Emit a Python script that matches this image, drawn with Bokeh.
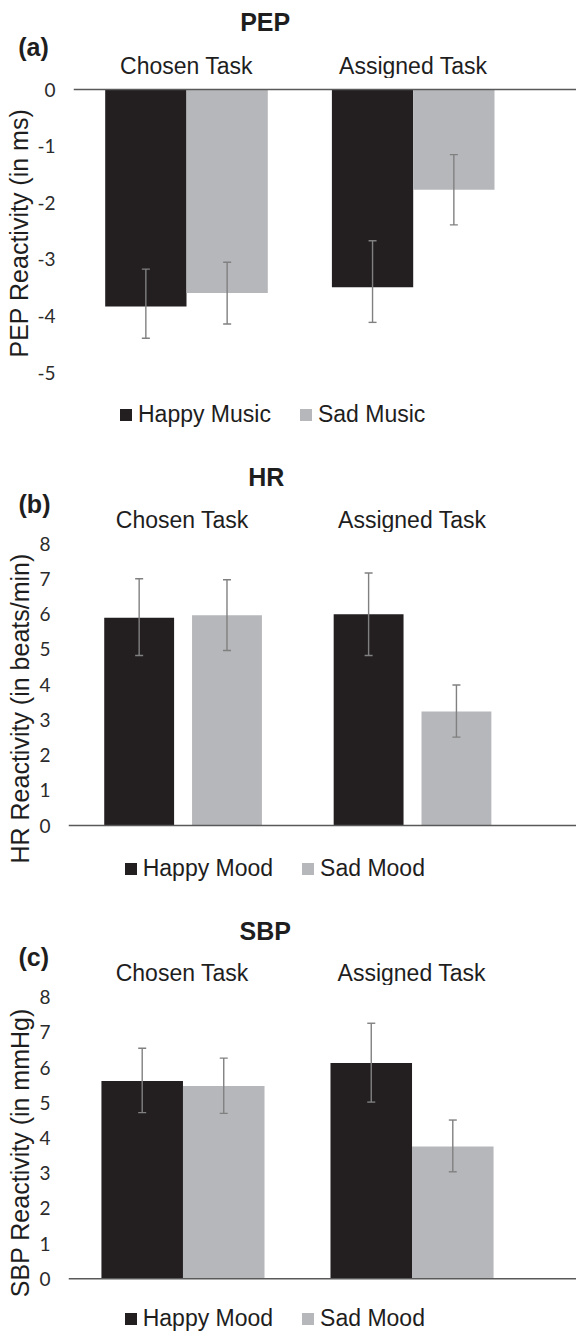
import math
import numpy as np
from bokeh.plotting import figure
from bokeh.layouts import column
from bokeh.models import (ColumnDataSource, Whisker, TeeHead, Span, Label, Legend,
                          LegendItem, FixedTicker, Range1d, Title)
from bokeh.embed import file_html
from bokeh.resources import INLINE

# ---------------- data ----------------
tasks = ["Chosen Task", "Assigned Task"]

pep_series = ["Happy Music", "Sad Music"]
pep_happy = [-3.83, -3.49]
pep_sad = [-3.59, -1.77]
pep_happy_hi = [-3.17, -2.67]
pep_happy_lo = [-4.39, -4.11]
pep_sad_hi = [-3.05, -1.15]
pep_sad_lo = [-4.14, -2.39]
pep_ticks = [0, -1, -2, -3, -4, -5]

hr_series = ["Happy Mood", "Sad Mood"]
hr_happy = [5.90, 6.00]
hr_sad = [5.97, 3.24]
hr_happy_hi = [7.01, 7.17]
hr_happy_lo = [4.83, 4.83]
hr_sad_hi = [6.98, 3.99]
hr_sad_lo = [4.97, 2.51]
hr_ticks = [0, 1, 2, 3, 4, 5, 6, 7, 8]

sbp_series = ["Happy Mood", "Sad Mood"]
sbp_happy = [5.62, 6.13]
sbp_sad = [5.48, 3.76]
sbp_happy_hi = [6.55, 7.26]
sbp_happy_lo = [4.72, 5.02]
sbp_sad_hi = [6.27, 4.51]
sbp_sad_lo = [4.70, 3.04]
sbp_ticks = [0, 1, 2, 3, 4, 5, 6, 7, 8]

# ---------------- style ----------------
BLACK = "#231F20"
GRAY = "#B6B7BA"
ERR = "#808080"
AXIS = "#595959"
TXT = "#1E1E1E"
FONT = "Liberation Sans"
W = 576


def base_fig(h, xr, yr, **kw):
    p = figure(width=W, height=h, x_range=xr, y_range=yr,
               toolbar_location=None, output_backend="svg", frame_align=False, **kw)
    p.grid.visible = False
    p.outline_line_color = None
    p.background_fill_color = "white"
    p.border_fill_color = "white"
    return p


def panel(cfg, title, letter, ylabel, series, happy, sad, h_lo, h_hi, s_lo, s_hi, ticks):
    top = cfg["top"]
    split = cfg["split"]
    bottom = cfg["bottom"]
    left = cfg["left"]
    c0, c1 = cfg["cats"]
    ux = c1 - c0
    uy = cfg["unit_y"]
    z = cfg["zero"]

    def X(px):
        return (px - c0) / ux

    def Y(py):
        return (z - py) / uy

    # ---- header: title, panel letter, task names ----
    hd = base_fig(split - top, Range1d(X(0), X(W)), Range1d(-split, -top),
                  x_axis_location=None, y_axis_location=None,
                  min_border_left=0, min_border_right=0, min_border_top=0, min_border_bottom=0)

    def lab(fig, text, x, y, size, bold=False):
        fig.add_layout(Label(x=x, y=y, text=text, text_font=FONT,
                             text_font_size=f"{size}px",
                             text_font_style="bold" if bold else "normal",
                             text_align="center", text_baseline="middle",
                             text_color=TXT))

    lab(hd, title, X(cfg["title_x"]), -cfg["title_y"], 25, bold=True)
    lab(hd, letter, X(cfg["letter_x"]), -cfg["letter_y"], 25, bold=True)
    for i, t in enumerate(tasks):
        lab(hd, t, i, -cfg["cat_y"], 23)

    # ---- main plot ----
    p = base_fig(bottom - split, Range1d(X(left), X(W)), Range1d(Y(bottom), Y(split)),
                 x_axis_location=None, y_axis_location="left",
                 min_border_left=int(round(left)), min_border_right=0,
                 min_border_top=0, min_border_bottom=0)

    ax = p.yaxis[0]
    ax.ticker = FixedTicker(ticks=ticks)
    ax.major_label_overrides = {t: str(t) for t in ticks}
    ax.axis_line_color = None
    ax.major_tick_line_color = None
    ax.minor_tick_line_color = None
    ax.major_tick_out = 0
    ax.major_tick_in = 0
    ax.major_label_standoff = 18
    ax.major_label_text_font = "Lato"
    ax.major_label_text_font_size = "19px"
    ax.major_label_text_color = "#2B2B2B"

    p.add_layout(Title(text=ylabel, align="left", vertical_align="bottom",
                       offset=bottom - cfg["ylab_bottom"], standoff=cfg["ylab_standoff"],
                       text_font=FONT, text_font_size="25px", text_font_style="normal",
                       text_color=TXT), "left")

    bw = cfg["bar_w"] / ux
    off = cfg["offset"] / ux
    idx = np.arange(len(tasks))

    src_h = ColumnDataSource(dict(x=idx - off, top=happy, lo=h_lo, hi=h_hi))
    src_s = ColumnDataSource(dict(x=idx + off, top=sad, lo=s_lo, hi=s_hi))
    r_h = p.vbar(x="x", top="top", bottom=0, width=bw, source=src_h,
                 fill_color=BLACK, line_color=None)
    r_s = p.vbar(x="x", top="top", bottom=0, width=bw, source=src_s,
                 fill_color=GRAY, line_color=None)

    p.add_layout(Span(location=0, dimension="width", line_color=AXIS, line_width=1.6))

    for src in (src_h, src_s):
        p.add_layout(Whisker(source=src, base="x", upper="hi", lower="lo",
                             line_color=ERR, line_width=1.4, level="annotation",
                             upper_head=TeeHead(size=8, line_color=ERR, line_width=1.4),
                             lower_head=TeeHead(size=8, line_color=ERR, line_width=1.4)))

    half_leg = 15
    vy = (bottom - cfg["leg_y"]) - half_leg
    legend = Legend(items=[LegendItem(label=series[0], renderers=[r_h]),
                           LegendItem(label=series[1], renderers=[r_s])],
                    orientation="horizontal",
                    location=(cfg["leg_x"] - left, max(vy, 0)),
                    glyph_width=15, glyph_height=15, label_height=24,
                    label_standoff=5, spacing=27, padding=0, margin=0,
                    border_line_color=None, background_fill_alpha=0,
                    label_text_font=FONT, label_text_font_size="23px",
                    label_text_color=TXT)
    p.add_layout(legend)
    return [hd, p]


cfg_a = dict(top=0, split=78, bottom=440, left=73, cats=(186.0, 412.7), unit_y=56.66, zero=89.0,
             bar_w=81.3, offset=40.65, title_x=264.7, title_y=21.7,
             letter_x=33.0, letter_y=46.7, cat_y=65.7, ylab_bottom=357.0, ylab_standoff=4,
             leg_x=118.0, leg_y=413.0)
cfg_b = dict(top=440, split=532, bottom=887, left=67, cats=(181.8, 411.7), unit_y=35.21, zero=825.0,
             bar_w=70.0, offset=44.0, title_x=265.8, title_y=476.7,
             letter_x=34.0, letter_y=503.3, cat_y=519.0, ylab_bottom=863.0, ylab_standoff=6,
             leg_x=121.7, leg_y=866.7)
cfg_c = dict(top=887, split=985, bottom=1332, left=67, cats=(181.7, 411.2), unit_y=35.2, zero=1278.3,
             bar_w=81.7, offset=40.85, title_x=264.7, title_y=930.0,
             letter_x=33.3, letter_y=956.7, cat_y=972.3, ylab_bottom=1296.7, ylab_standoff=6,
             leg_x=121.7, leg_y=1318.0)

figs = []
figs += panel(cfg_a, "PEP", "(a)", "PEP Reactivity (in ms)", pep_series,
              pep_happy, pep_sad, pep_happy_lo, pep_happy_hi, pep_sad_lo, pep_sad_hi, pep_ticks)
figs += panel(cfg_b, "HR", "(b)", "HR Reactivity (in beats/min)", hr_series,
              hr_happy, hr_sad, hr_happy_lo, hr_happy_hi, hr_sad_lo, hr_sad_hi, hr_ticks)
figs += panel(cfg_c, "SBP", "(c)", "SBP Reactivity (in mmHg)", sbp_series,
              sbp_happy, sbp_sad, sbp_happy_lo, sbp_happy_hi, sbp_sad_lo, sbp_sad_hi, sbp_ticks)

layout = column(*figs, spacing=0)
open("out.html", "w").write(file_html(layout, INLINE))
